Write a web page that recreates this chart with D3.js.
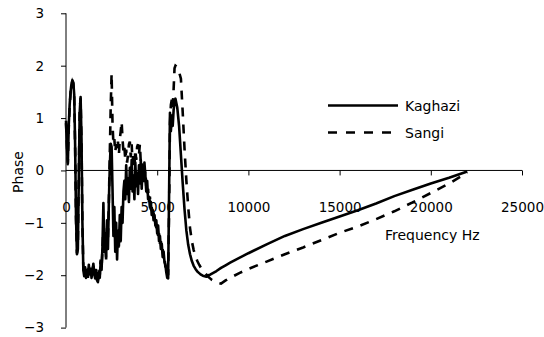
<!DOCTYPE html>
<html>
<head>
<meta charset="utf-8">
<script src="https://cdn.jsdelivr.net/npm/d3@7"></script>
<style>
  html, body { margin: 0; padding: 0; background: #fff; }
  svg { display: block; }
  text { font-family: "DejaVu Sans", Verdana, sans-serif; fill: #000; }
</style>
</head>
<body>
<svg id="chart"></svg>
<script>
/* Phase vs frequency, two tiles: Kaghazi (solid) and Sangi (dashed) */

const freqHz = [
  0, 50, 100, 150, 200, 250, 300, 350, 400, 450,
  500, 550, 600, 650, 700, 750, 800, 850, 900, 950,
  1000, 1050, 1100, 1150, 1200, 1250, 1300, 1350, 1400, 1450,
  1500, 1550, 1600, 1650, 1700, 1750, 1800, 1850, 1900, 1950,
  2000, 2050, 2100, 2150, 2200, 2250, 2300, 2350, 2400, 2450,
  2500, 2550, 2600, 2650, 2700, 2750, 2800, 2850, 2900, 2950,
  3000, 3050, 3100, 3150, 3200, 3250, 3300, 3350, 3400, 3450,
  3500, 3550, 3600, 3650, 3700, 3750, 3800, 3850, 3900, 3950,
  4000, 4050, 4100, 4150, 4200, 4250, 4300, 4350, 4400, 4450,
  4500, 4550, 4600, 4650, 4700, 4750, 4800, 4850, 4900, 4950,
  5000, 5050, 5100, 5150, 5200, 5250, 5300, 5350, 5400, 5450,
  5500, 5550, 5600, 5650, 5700, 5750, 5800, 5850, 5900, 5950,
  6000,
  6100, 6200, 6300, 6400, 6500, 6600, 6700, 6800, 6900, 7000,
  7100, 7200, 7300, 7400, 7500, 7600, 7700, 7800, 7900, 8000,
  8250, 8500, 8750, 9000, 9500, 10000,
  11000, 12000, 13000, 14000, 15000, 16000, 17000, 18000, 19000, 20000, 21000, 22000
];

const kaghazi = [
  0.95, 0.45, 0.12, 0.85, 1.25, 1.5, 1.65, 1.72, 1.68, 1.45,
  0.5, -0.9, -1.6, -1.5, -0.2, 1.1, 1.4, 0.6, -1.0, -1.9,
  -2.02, -1.85, -2.05, -1.9, -2.02, -1.8, -1.98, -1.88, -2.05, -1.92,
  -1.78, -1.98, -2.06, -1.9, -2.1, -2.13, -1.95, -2.05, -1.75, -1.9,
  -1.45, -0.62, -1.55, -1.2, -1.65, -0.95, -1.5, -0.6, 0.05, 0.51,
  0.45, -0.35, -1.25, -0.7, -1.55, -1.0, -1.7, -1.15, -1.45, -0.85,
  -1.35, -0.7, -1.0, -0.4, -0.2, -0.55, 0.1, -0.45, -0.15, -0.6,
  0.05, -0.35, 0.2, -0.4, -0.1, -0.55, 0.15, -0.3, -0.05, -0.45,
  0.1, -0.25, 0.2, -0.35, 0.05, -0.2, 0.15, -0.1, -0.4, -0.2,
  -0.55, -0.5, -0.7, -0.6, -0.85, -0.75, -0.95, -0.85, -1.05, -0.95,
  -1.2, -1.05, -1.35, -1.25, -1.5, -1.4, -1.65, -1.55, -1.75, -1.8,
  -1.95, -2.05, -2.06, -0.5, 1.1, 0.75, 1.05, 0.85, 1.15, 1.3,
  1.37,
  1.2, 0.85, 0.3, -0.25, -0.75, -1.15, -1.42, -1.6, -1.73, -1.82,
  -1.88, -1.93, -1.96, -1.99, -2.01, -2.02, -2.03, -2.0, -1.99, -1.97,
  -1.92, -1.86, -1.81, -1.76, -1.67, -1.58,
  -1.41, -1.25, -1.12, -1.0, -0.88, -0.76, -0.63, -0.49, -0.37, -0.25, -0.14, -0.02
];

const sangi = [
  0.9, 0.5, 0.15, 0.8, 1.2, 1.48, 1.63, 1.7, 1.66, 1.4,
  0.45, -0.95, -1.58, -1.45, -0.1, 1.15, 1.38, 0.55, -1.05, -1.85,
  -1.98, -1.9, -2.0, -1.85, -2.05, -1.85, -1.95, -1.92, -2.0, -1.88,
  -1.82, -2.02, -1.95, -2.0, -2.05, -2.08, -1.9, -2.0, -1.7, -1.85,
  -1.5, -1.1, -1.6, -1.35, -1.7, -1.1, -1.3, -0.6, 0.3, 1.2,
  1.85, 0.9, 0.5, 0.6, 0.35, 0.5, 0.4, 0.55, 0.3, 0.6,
  0.75, 0.93, 0.6, 0.35, 0.45, 0.2, 0.4, 0.15, 0.3, 0.5,
  0.55, 0.25, 0.5, 0.15, 0.35, 0.05, 0.4, 0.2, 0.45, 0.5,
  0.3, 0.5, 0.15, 0.2, -0.05, 0.1, -0.2, 0.0, -0.3, -0.45,
  -0.35, -0.6, -0.5, -0.75, -0.7, -0.9, -0.8, -1.0, -0.95, -1.1,
  -1.05, -1.25, -1.2, -1.4, -1.35, -1.55, -1.5, -1.7, -1.65, -1.85,
  -1.8, -1.95, -2.0, -0.8, 0.9, 1.25, 1.35, 1.2, 1.55, 1.95,
  2.0,
  1.97, 1.88, 1.75, 1.1, 0.4, -0.2, -0.7, -1.1, -1.35, -1.52,
  -1.64, -1.73, -1.8, -1.86, -1.91, -1.95, -1.99, -2.03, -2.06, -2.09,
  -2.14, -2.16, -2.1, -2.05, -1.96, -1.88,
  -1.74, -1.6, -1.47, -1.33, -1.19, -1.07, -0.93, -0.78, -0.61, -0.43, -0.25, -0.04
];

const xTicks = [0, 5000, 10000, 15000, 20000, 25000];
const yTicks = [-3, -2, -1, 0, 1, 2, 3];
const seriesNames = ["Kaghazi", "Sangi"];

const W = 544, H = 337;
const svg = d3.select("#chart").attr("width", W).attr("height", H);

const x = d3.scaleLinear().domain([0, 25000]).range([66, 522]);
const y = d3.scaleLinear().domain([-3, 3]).range([327.6, 13.3]);

/* ── axes ── */
const gy = svg.append("g").attr("transform", `translate(${x(0)},0)`);
gy.call(d3.axisLeft(y).tickValues(yTicks).tickSize(5).tickPadding(17).tickFormat(d3.format("d")));

const gx = svg.append("g").attr("transform", `translate(0,${y(0)})`);
gx.call(d3.axisBottom(x).tickValues(xTicks).tickSize(5).tickPadding(27).tickFormat(d3.format("d")));

[gx, gy].forEach(g => {
  g.select(".domain").attr("stroke", "#000").attr("stroke-width", 1);
  g.selectAll(".tick line").attr("stroke", "#000");
  g.selectAll(".tick text").attr("font-size", 13.5).attr("font-family", "DejaVu Sans, Verdana, sans-serif").attr("fill", "#000");
});
gy.select(".domain").attr("d", `M0,${y(-3)}V${y(3)}`);
gx.select(".domain").attr("d", `M${x(0)},0H${x(25000)}`);
gx.selectAll(".tick").filter(d => d === 0).select("line").remove();

/* ── series ── */
const line = d3.line().x(d => x(d[0])).y(d => y(d[1]));
const kPts = freqHz.map((f, i) => [f, kaghazi[i]]);
const sPts = freqHz.map((f, i) => [f, sangi[i]]);

svg.append("path").datum(kPts).attr("d", line)
  .attr("fill", "none").attr("stroke", "#000").attr("stroke-width", 2.6)
  .attr("stroke-linejoin", "round");
svg.append("path").datum(sPts).attr("d", line)
  .attr("fill", "none").attr("stroke", "#000").attr("stroke-width", 2.6)
  .attr("stroke-dasharray", "9,8");

/* ── axis titles ── */
svg.append("text").attr("x", 385).attr("y", 240).attr("font-size", 14).text("Frequency Hz");
svg.append("text").attr("transform", "translate(23,172) rotate(-90)")
  .attr("text-anchor", "middle").attr("font-size", 14).text("Phase");

/* ── legend ── */
const leg = svg.append("g");
seriesNames.forEach((name, i) => {
  const ly = 105.5 + i * 27;
  leg.append("line").attr("x1", 328).attr("x2", 398).attr("y1", ly).attr("y2", ly)
    .attr("stroke", "#000").attr("stroke-width", 2.6)
    .attr("stroke-dasharray", i ? "9,9" : null);
  leg.append("text").attr("x", 405).attr("y", ly + 5).attr("font-size", 14).text(name);
});
</script>
</body>
</html>
